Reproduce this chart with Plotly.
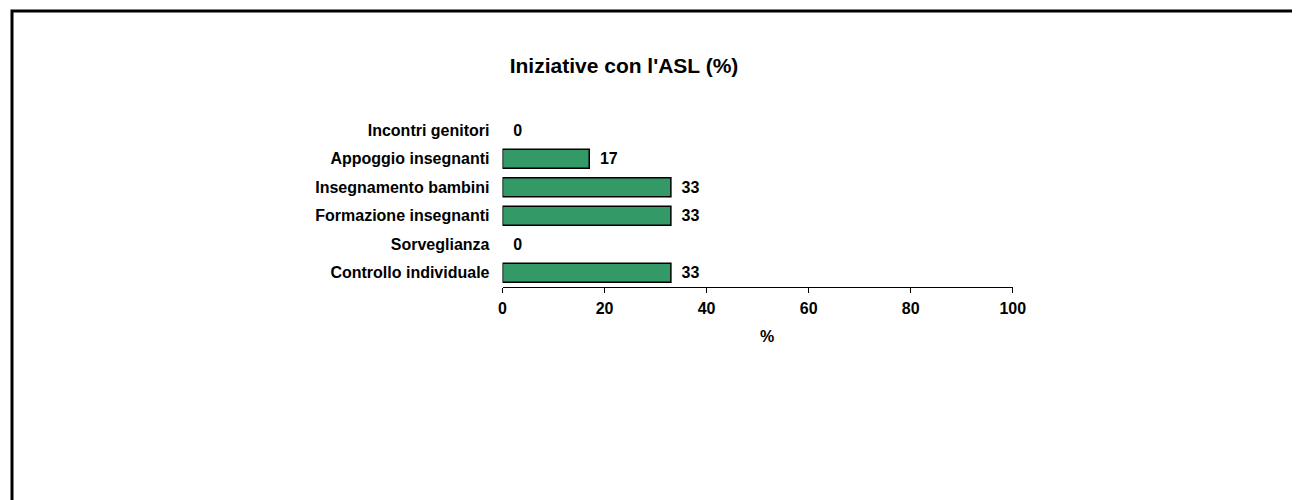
import plotly.graph_objects as go

# data (top to bottom as shown in the chart)
categorie = ["Incontri genitori", "Appoggio insegnanti", "Insegnamento bambini",
             "Formazione insegnanti", "Sorveglianza", "Controllo individuale"]
valori = [0, 17, 33, 33, 0, 33]
tick_x = [0, 20, 40, 60, 80, 100]

W, H = 1300, 500
FONT = "Arial, Liberation Sans, sans-serif"

fig = go.Figure()
fig.add_trace(go.Bar(
        x=valori,
        y=categorie,
        orientation="h",
        # no outline on empty bars
        marker=dict(color="#339966",
                    line=dict(color="black", width=[1.5 if v else 0 for v in valori])),
        text=valori,
        texttemplate="\u00a0\u2009<b>%{x}</b>",
        textposition="outside",
        textfont=dict(family=FONT, size=16, color="black"),
        cliponaxis=False,
        showlegend=False,
        hoverinfo="skip",
))

fig.update_layout(
        width=W, height=H,
        margin=dict(l=0, r=0, t=0, b=0),
        paper_bgcolor="white",
        plot_bgcolor="white",
        bargap=0.33,
        font=dict(family=FONT, size=16, color="black"),
        title=dict(text="<b>Iniziative con l'ASL (%)</b>",
                   x=616 / W, xanchor="center",
                   y=1 - 58 / H, yanchor="middle",
                   font=dict(family=FONT, size=21, color="black")),
        xaxis=dict(
                domain=[497 / W, 1014 / W],
                range=[0, 100],
                tickvals=tick_x,
                ticktext=["<b>%d</b>" % t for t in tick_x],
                showgrid=False, zeroline=False,
                showline=True, linecolor="black", linewidth=1,
                ticks="outside", ticklen=5, tickcolor="black", tickwidth=1,
                ticklabelstandoff=2,
        ),
        yaxis=dict(
                domain=[1 - 279 / H, 1 - 108 / H],
                autorange="reversed",
                tickvals=categorie,
                ticktext=["<b>%s</b>" % c for c in categorie],
                showgrid=False, zeroline=False, showline=False,
                ticks="", ticklabelstandoff=12,
        ),
        # x axis title, placed as in the original (a bit right of centre)
        annotations=[dict(text="<b>%</b>", xref="paper", yref="paper",
                          x=765 / W, y=1 - 328 / H, xanchor="center", yanchor="middle",
                          showarrow=False, font=dict(family=FONT, size=16))],
        # outer frame of the chart area
        shapes=[dict(type="rect", xref="paper", yref="paper",
                     x0=0, x1=1.05, y0=-0.05, y1=1 - 3 / H,
                     line=dict(color="black", width=3))],
)

fig.write_html("out.html")
